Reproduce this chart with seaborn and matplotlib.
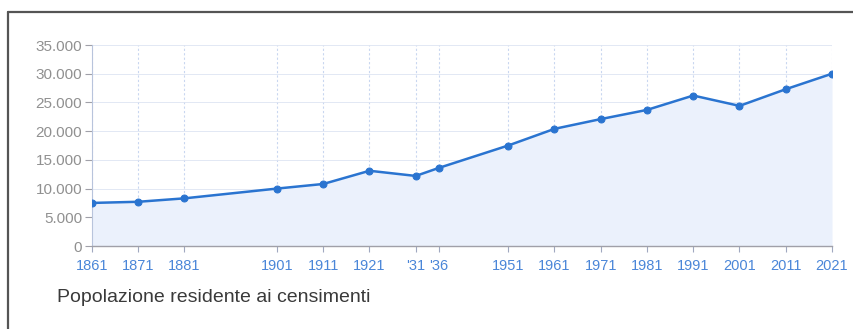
import matplotlib
matplotlib.use("Agg")
import matplotlib.pyplot as plt
import matplotlib.ticker as mticker
from matplotlib.lines import Line2D
import seaborn as sns
import pandas as pd

years = [1861, 1871, 1881, 1901, 1911, 1921, 1931, 1936, 1951, 1961, 1971, 1981, 1991, 2001, 2011, 2021]
population = [7500, 7700, 8300, 10000, 10800, 13100, 12200, 13600, 17500, 20400, 22100, 23700, 26200, 24400, 27300, 30000]
tick_labels = ["1861", "1871", "1881", "1901", "1911", "1921", "'31", "'36", "1951", "1961", "1971", "1981", "1991", "2001", "2011", "2021"]
y_ticks = [0, 5000, 10000, 15000, 20000, 25000, 30000, 35000]
caption = "Popolazione residente ai censimenti"

df = pd.DataFrame({"anno": years, "popolazione": population})

sns.set_theme(style="white")
plt.rcParams["font.family"] = ["Liberation Sans", "DejaVu Sans"]

W, H = 854, 329
fig = plt.figure(figsize=(W / 100, H / 100), dpi=100)
fig.patch.set_facecolor("white")
ax = fig.add_axes([92 / W, 1 - 246 / H, (832 - 92) / W, (246 - 45) / H])
ax.set_facecolor("white")

line_col = "#2a74d0"
ax.fill_between(df["anno"], df["popolazione"], 0, color="#ebf1fc", zorder=1, linewidth=0)
sns.lineplot(data=df, x="anno", y="popolazione", ax=ax, color=line_col, linewidth=1.8,
             marker="o", markersize=5, markeredgecolor=line_col, zorder=3)

ax.set_xlim(1861, 2021)
ax.set_ylim(0, 35000)
ax.set_xticks(years)
ax.set_xticklabels(tick_labels)
ax.set_yticks(y_ticks)
ax.yaxis.set_major_formatter(mticker.FuncFormatter(lambda v, p: f"{int(v):,}".replace(",", ".")))

ax.grid(True, axis="x", color="#c9d7f0", linestyle=(0, (2, 2)), linewidth=0.8, zorder=0)
ax.grid(True, axis="y", color="#dde4f2", linestyle="-", linewidth=0.6, zorder=0)
for gl in ax.get_xgridlines() + ax.get_ygridlines():
    gl.set_zorder(2)

ax.set_xlabel("")
ax.set_ylabel("")
for s in ["top", "right"]:
    ax.spines[s].set_visible(False)
ax.spines["left"].set_color("#b8c4dc")
ax.spines["left"].set_linewidth(0.8)
ax.spines["bottom"].set_color("#a0a0a8")
ax.spines["bottom"].set_linewidth(1.0)

ax.tick_params(axis="y", which="both", left=True, length=5, width=0.8, color="#a0a0a8",
               labelsize=11, labelcolor="#909090", pad=2)
ax.tick_params(axis="x", which="both", bottom=True, length=4, width=0.8, color="#a0a8c0",
               labelsize=10.5, labelcolor="#4a86d8", pad=5)

fig.text(57 / W, 1 - 298 / H, caption, fontsize=14, color="#3a3a3a", ha="left", va="center")

# scanned frame border
fig.add_artist(Line2D([8 / W, 8 / W], [0, 1 - 12 / H], transform=fig.transFigure, color="#555555", linewidth=1.6))
fig.add_artist(Line2D([8 / W, 1], [1 - 12 / H, 1 - 12 / H], transform=fig.transFigure, color="#555555", linewidth=1.6))

fig.savefig("out.png", dpi=100)
